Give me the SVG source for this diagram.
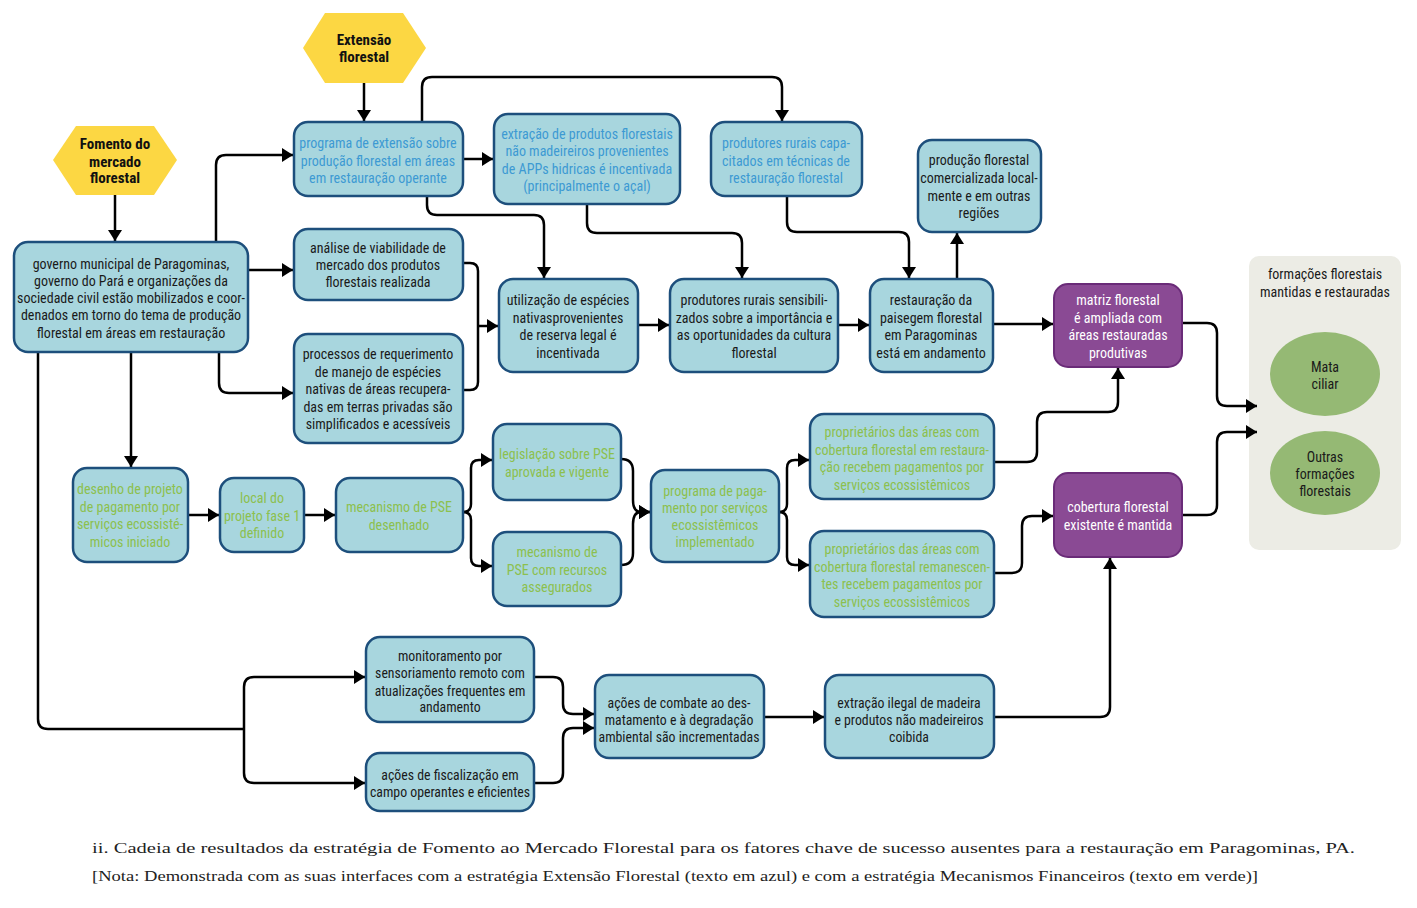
<svg xmlns="http://www.w3.org/2000/svg" width="1417" height="908" viewBox="0 0 1417 908">
<defs>
<marker id="ah" markerUnits="userSpaceOnUse" markerWidth="12" markerHeight="14" refX="11" refY="7" orient="auto"><path d="M0,0 L11,7 L0,14 z" fill="#000"/></marker>
</defs>
<style>
text{font-family:'Liberation Sans Narrow','Arial Narrow','Roboto Condensed','DejaVu Sans Condensed','Liberation Sans',sans-serif;font-stretch:condensed;font-size:14px;text-anchor:middle}
.n rect{fill:#a8d6de;stroke:#1d4f7c;stroke-width:2.5}
.p rect{fill:#8a4a94;stroke:#6a2b78;stroke-width:2}
.k{fill:#1a1a1a}.b{fill:#3d9ad3}.g{fill:#8cc04e}.w{fill:#fff}
.sm{font-size:13.8px}
.hex polygon{fill:#fcd743}
.hex text{font-weight:bold;font-size:15px;fill:#111}
#conn path{fill:none;stroke:#000;stroke-width:2.5;marker-end:url(#ah)}
#conn path.nm{marker-end:none}
.cap{font-family:'Liberation Serif',serif;text-anchor:start;fill:#222}
</style>
<rect width="1417" height="908" fill="#fff"/>

<g id="panel">
<rect x="1249" y="256" width="152" height="294" rx="10" fill="#ecece5"/>
<text class="k" x="1325" y="279">formações florestais</text>
<text class="k" x="1325" y="297">mantidas e restauradas</text>
</g>
<g id="mata"><ellipse cx="1325" cy="374" rx="55" ry="42" fill="#95b974"/><text class="k" x="1325" y="372">Mata</text><text class="k" x="1325" y="389">ciliar</text></g>
<g id="outras"><ellipse cx="1325" cy="473" rx="55" ry="42" fill="#95b974"/><text class="k" x="1325" y="462">Outras</text><text class="k" x="1325" y="479">formações</text><text class="k" x="1325" y="496">florestais</text></g>

<g id="conn">
<path d="M364,83 V121"/>
<path d="M115,195 V241"/>
<path d="M216,242 V165 Q216,155 226,155 H293"/>
<path d="M248,270 H293"/>
<path d="M219,352 V383 Q219,393 229,393 H293"/>
<path d="M131,352 V467"/>
<path class="nm" d="M38,352 V719 Q38,729 48,729 H244"/>
<path d="M244,729 V687 Q244,677 254,677 H365"/>
<path d="M244,729 V773 Q244,783 254,783 H365"/>
<path d="M463,159 H493"/>
<path d="M422,122 V87 Q422,77 432,77 H772 Q782,77 782,87 V121"/>
<path d="M427,196 V205 Q427,215 437,215 H534 Q544,215 544,225 V278"/>
<path d="M587,204 V223 Q587,233 597,233 H732 Q742,233 742,243 V278"/>
<path d="M787,196 V222 Q787,232 797,232 H899 Q909,232 909,242 V278"/>
<path d="M957,279 V233"/>
<path class="nm" d="M463,263 H470 Q478,263 478,271 V382 Q478,390 470,390 H463"/>
<path d="M478,326 H498"/>
<path d="M638,325 H669"/>
<path d="M838,325 H869"/>
<path d="M993,324 H1053"/>
<path d="M1182,323 H1207 Q1217,323 1217,333 V396 Q1217,406 1227,406 H1257"/>
<path d="M1182,515 H1207 Q1217,515 1217,505 V442 Q1217,432 1227,432 H1257"/>
<path d="M188,515 H219"/>
<path d="M304,515 H335"/>
<path d="M463,512 Q471,512 471,504 V468 Q471,460 479,460 H492"/>
<path d="M463,512 Q471,512 471,520 V558 Q471,566 479,566 H492"/>
<path d="M621,459 Q633,459 633,471 V500 Q633,512 641,512 H650"/>
<path d="M621,565 Q633,565 633,553 V524 Q633,512 641,512 H650"/>
<path d="M779,512 Q787,512 787,504 V468 Q787,460 795,460 H809"/>
<path d="M779,512 Q787,512 787,520 V557 Q787,565 795,565 H809"/>
<path d="M994,462 H1027 Q1037,462 1037,452 V422 Q1037,412 1047,412 H1108 Q1118,412 1118,402 V368"/>
<path d="M994,573 H1012 Q1022,573 1022,563 V526 Q1022,516 1032,516 H1053"/>
<path d="M994,717 H1100 Q1110,717 1110,707 V558"/>
<path d="M534,677 H553 Q563,677 563,687 V704 Q563,714 573,714 H594"/>
<path d="M534,783 H553 Q563,783 563,773 V738 Q563,728 573,728 H594"/>
<path d="M764,717 H824"/>
</g>

<g id="hex-extensao" class="hex"><polygon points="303,48 325,13 403,13 426,48 403,83 325,83"/><text x="364" y="45">Extensão</text><text x="364" y="62">florestal</text></g>
<g id="hex-fomento" class="hex"><polygon points="53,160 76,126 154,126 177,160 154,195 76,195"/><text x="115" y="149">Fomento do</text><text x="115" y="167">mercado</text><text x="115" y="183">florestal</text></g>

<g id="governo" class="n"><rect x="14" y="242" width="234" height="110" rx="14"/><text class="k"><tspan x="131" y="268.5">governo municipal de Paragominas,</tspan><tspan x="131" y="285.8">governo do Pará e organizações da</tspan><tspan x="131" y="303">sociedade civil estão mobilizados e coor-</tspan><tspan x="131" y="320.3">denados em torno do tema de produção</tspan><tspan x="131" y="337.6">florestal em áreas em restauração</tspan></text></g>
<g id="prog-extensao" class="n"><rect x="294" y="122" width="169" height="74" rx="14"/><text class="b"><tspan x="378" y="148">programa de extensão sobre</tspan><tspan x="378" y="165.5">produção florestal em áreas</tspan><tspan x="378" y="183">em restauração operante</tspan></text></g>
<g id="extracao-pfnm" class="n"><rect x="494" y="114" width="186" height="90" rx="14"/><text class="b"><tspan x="587" y="139">extração de produtos florestais</tspan><tspan x="587" y="156">não madeireiros provenientes</tspan><tspan x="587" y="173.5">de APPs hidricas é incentivada</tspan><tspan x="587" y="191">(principalmente o açal)</tspan></text></g>
<g id="capacitados" class="n"><rect x="711" y="122" width="151" height="74" rx="14"/><text class="b"><tspan x="786" y="148">produtores rurais capa-</tspan><tspan x="786" y="165.5">citados em técnicas de</tspan><tspan x="786" y="183">restauração florestal</tspan></text></g>
<g id="producao" class="n"><rect x="918" y="140" width="123" height="92" rx="14"/><text class="k"><tspan x="979" y="165">produção florestal</tspan><tspan x="979" y="183">comercializada local-</tspan><tspan x="979" y="200.5">mente e em outras</tspan><tspan x="979" y="218">regiões</tspan></text></g>
<g id="analise" class="n"><rect x="294" y="229" width="169" height="71" rx="14"/><text class="k"><tspan x="378" y="253">análise de viabilidade de</tspan><tspan x="378" y="270">mercado dos produtos</tspan><tspan x="378" y="287">florestais realizada</tspan></text></g>
<g id="processos" class="n"><rect x="294" y="334" width="169" height="109" rx="14"/><text class="k"><tspan x="378" y="359">processos de requerimento</tspan><tspan x="378" y="376.5">de manejo de espécies</tspan><tspan x="378" y="394">nativas de áreas recupera-</tspan><tspan x="378" y="411.5">das em terras privadas são</tspan><tspan x="378" y="429">simplificados e acessíveis</tspan></text></g>
<g id="utilizacao" class="n"><rect x="499" y="279" width="139" height="93" rx="14"/><text class="k"><tspan x="568" y="305">utilização de espécies</tspan><tspan x="568" y="322.5">nativasprovenientes</tspan><tspan x="568" y="340">de reserva legal é</tspan><tspan x="568" y="357.5">incentivada</tspan></text></g>
<g id="sensibilizados" class="n"><rect x="670" y="279" width="168" height="93" rx="14"/><text class="k"><tspan x="754" y="305">produtores rurais sensibili-</tspan><tspan x="754" y="322.5">zados sobre a importância e</tspan><tspan x="754" y="340">as oportunidades da cultura</tspan><tspan x="754" y="357.5">florestal</tspan></text></g>
<g id="restauracao" class="n"><rect x="870" y="279" width="123" height="93" rx="14"/><text class="k"><tspan x="931" y="305">restauração da</tspan><tspan x="931" y="322.5">paisegem florestal</tspan><tspan x="931" y="340">em Paragominas</tspan><tspan x="931" y="357.5">está em andamento</tspan></text></g>
<g id="matriz" class="p"><rect x="1054" y="284" width="128" height="83" rx="14"/><text class="w"><tspan x="1118" y="305">matriz florestal</tspan><tspan x="1118" y="322.5">é ampliada com</tspan><tspan x="1118" y="340">áreas restauradas</tspan><tspan x="1118" y="357.5">produtivas</tspan></text></g>
<g id="desenho" class="n"><rect x="73" y="468" width="115" height="94" rx="14"/><text class="g"><tspan x="130" y="494">desenho de projeto</tspan><tspan x="130" y="511.5">de pagamento por</tspan><tspan x="130" y="529">serviços ecossisté-</tspan><tspan x="130" y="546.5">micos iniciado</tspan></text></g>
<g id="local" class="n"><rect x="220" y="478" width="84" height="74" rx="14"/><text class="g"><tspan x="262" y="503">local do</tspan><tspan x="262" y="520.5">projeto fase 1</tspan><tspan x="262" y="538">definido</tspan></text></g>
<g id="mec-desenhado" class="n"><rect x="336" y="478" width="127" height="74" rx="14"/><text class="g"><tspan x="399" y="512">mecanismo de PSE</tspan><tspan x="399" y="529.5">desenhado</tspan></text></g>
<g id="legislacao" class="n"><rect x="493" y="424" width="128" height="76" rx="14"/><text class="g"><tspan x="557" y="459">legislação sobre PSE</tspan><tspan x="557" y="476.5">aprovada e vigente</tspan></text></g>
<g id="recursos" class="n"><rect x="493" y="532" width="128" height="74" rx="14"/><text class="g"><tspan x="557" y="557">mecanismo de</tspan><tspan x="557" y="574.5">PSE com recursos</tspan><tspan x="557" y="592">assegurados</tspan></text></g>
<g id="prog-pagamento" class="n"><rect x="651" y="470" width="128" height="92" rx="14"/><text class="g"><tspan x="715" y="496">programa de paga-</tspan><tspan x="715" y="513">mento por serviços</tspan><tspan x="715" y="530">ecossistêmicos</tspan><tspan x="715" y="547">implementado</tspan></text></g>
<g id="prop-restauracao" class="n"><rect x="810" y="414" width="184" height="85" rx="14"/><text class="g"><tspan x="902" y="437">proprietários das áreas com</tspan><tspan x="902" y="454.5">cobertura florestal em restaura-</tspan><tspan x="902" y="472">ção recebem pagamentos por</tspan><tspan x="902" y="489.5">serviços ecossistêmicos</tspan></text></g>
<g id="prop-remanescente" class="n"><rect x="810" y="531" width="184" height="86" rx="14"/><text class="g"><tspan x="902" y="554">proprietários das áreas com</tspan><tspan x="902" y="571.5">cobertura florestal remanescen-</tspan><tspan x="902" y="589">tes recebem pagamentos por</tspan><tspan x="902" y="606.5">serviços ecossistêmicos</tspan></text></g>
<g id="cobertura" class="p"><rect x="1054" y="473" width="128" height="84" rx="14"/><text class="w"><tspan x="1118" y="512">cobertura florestal</tspan><tspan x="1118" y="529.5">existente é mantida</tspan></text></g>
<g id="monitoramento" class="n"><rect x="366" y="637" width="168" height="85" rx="14"/><text class="k sm"><tspan x="450" y="661">monitoramento por</tspan><tspan x="450" y="678">sensoriamento remoto com</tspan><tspan x="450" y="695.5">atualizações frequentes em</tspan><tspan x="450" y="712">andamento</tspan></text></g>
<g id="fiscalizacao" class="n"><rect x="366" y="753" width="168" height="58" rx="14"/><text class="k sm"><tspan x="450" y="780">ações de fiscalização em</tspan><tspan x="450" y="797">campo operantes e eficientes</tspan></text></g>
<g id="combate" class="n"><rect x="595" y="675" width="169" height="83" rx="14"/><text class="k sm"><tspan x="679" y="708">ações de combate ao des-</tspan><tspan x="679" y="725">matamento e à degradação</tspan><tspan x="679" y="742">ambiental são incrementadas</tspan></text></g>
<g id="extracao-ilegal" class="n"><rect x="825" y="675" width="169" height="83" rx="14"/><text class="k sm"><tspan x="909" y="708">extração ilegal de madeira</tspan><tspan x="909" y="725">e produtos não madeireiros</tspan><tspan x="909" y="742">coibida</tspan></text></g>

<g id="caption">
<text class="cap" x="92" y="853" font-size="21" textLength="1263" lengthAdjust="spacingAndGlyphs">ii. Cadeia de resultados da estratégia de Fomento ao Mercado Florestal para os fatores chave de sucesso ausentes para a restauração em Paragominas, PA.</text>
<text class="cap" x="92" y="881" font-size="19" textLength="1166" lengthAdjust="spacingAndGlyphs">[Nota: Demonstrada com as suas interfaces com a estratégia Extensão Florestal (texto em azul) e com a estratégia Mecanismos Financeiros (texto em verde)]</text>
</g>
</svg>
